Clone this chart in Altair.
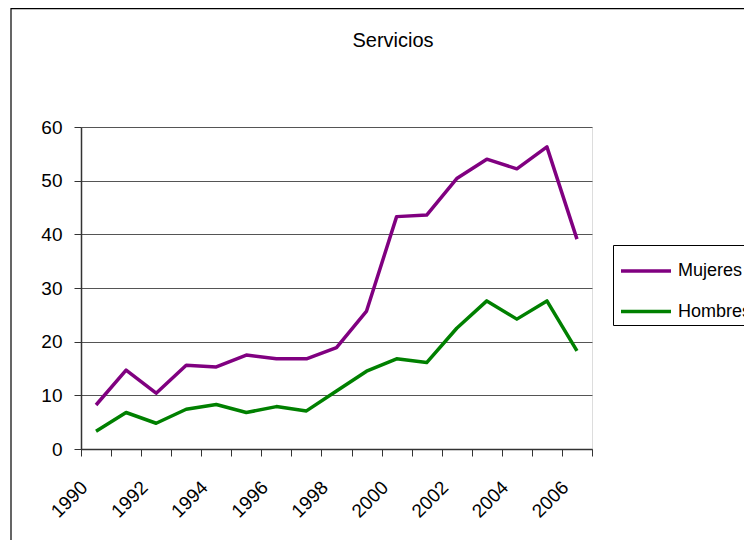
import altair as alt
import pandas as pd

years = list(range(1990, 2007))
mujeres = [8.2, 14.7, 10.4, 15.6, 15.3, 17.5, 16.8, 16.8, 18.9, 25.7,
           43.3, 43.6, 50.4, 54.0, 52.2, 56.3, 39.1]
hombres = [3.3, 6.8, 4.8, 7.4, 8.3, 6.8, 7.9, 7.1, 10.8, 14.5,
           16.8, 16.1, 22.5, 27.6, 24.2, 27.6, 18.3]
series = ["Mujeres", "Hombres"]
colors = ["#800080", "#008000"]

rows = []
for name, vals in zip(series, [mujeres, hombres]):
    for y, v in zip(years, vals):
        rows.append({"Año": y, "Valor": v, "Serie": name})
df = pd.DataFrame(rows)

FONT = "Liberation Sans"

lines = alt.Chart(df).mark_line(strokeWidth=3.5, strokeJoin="round").encode(
    x=alt.X("Año:O", sort=years, title=None,
            scale=alt.Scale(paddingInner=0, paddingOuter=0),
            axis=alt.Axis(labelAngle=315, labelAlign="right", labelBaseline="middle",
                          labelExpr="datum.value % 2 == 0 ? datum.label : ''",
                          labelOverlap=False, tickBand="extent", tickSize=7,
                          labelPadding=28, labelOffset=-12, labelFontSize=19,
                          labelFont=FONT, labelColor="#000000",
                          domainColor="#333333", tickColor="#333333",
                          domainWidth=1.5, grid=False)),
    y=alt.Y("Valor:Q", title=None,
            scale=alt.Scale(domain=[0, 60], nice=False),
            axis=alt.Axis(values=[0, 10, 20, 30, 40, 50, 60], tickSize=7,
                          labelPadding=12, labelFontSize=19, labelFont=FONT,
                          labelColor="#000000", domainColor="#333333",
                          tickColor="#333333", domainWidth=1.5,
                          grid=True, gridColor="#555555", gridWidth=1)),
    color=alt.Color("Serie:N", sort=series,
                    scale=alt.Scale(domain=series, range=colors),
                    legend=alt.Legend(title=None, orient="none", legendX=532, legendY=118,
                                      symbolType="M-1.25,0H1.25", symbolSize=1600,
                                      symbolStrokeWidth=3.5, rowPadding=9.5,
                                      padding=4, symbolOffset=7, labelOffset=10,
                                      labelFontSize=18, labelFont=FONT,
                                      labelColor="#000000",
                                      strokeColor="#000000", fillColor="#ffffff")),
)

frame = alt.Chart(alt.Data(values=[{"a": 1}])).mark_rect(
    fill=None, stroke="#000000", strokeWidth=1.2
).encode(
    x=alt.value(-70), x2=alt.value(900), y=alt.value(-118.4), y2=alt.value(700)
)

chart = alt.layer(frame, lines).properties(
    width=511, height=322,
    title=alt.TitleParams("Servicios", anchor="middle", frame="group", dx=56.5,
                          offset=0, dy=43, fontSize=20, font=FONT, fontWeight="normal",
                          color="#000000"),
    autosize=alt.AutoSizeParams(type="none"),
    padding={"left": 73, "top": 119, "right": 152, "bottom": 91},
).configure_view(stroke="#888888", strokeWidth=2).configure(background="#ffffff")

chart.save("out.html", embed_options={"renderer": "svg", "actions": False})
